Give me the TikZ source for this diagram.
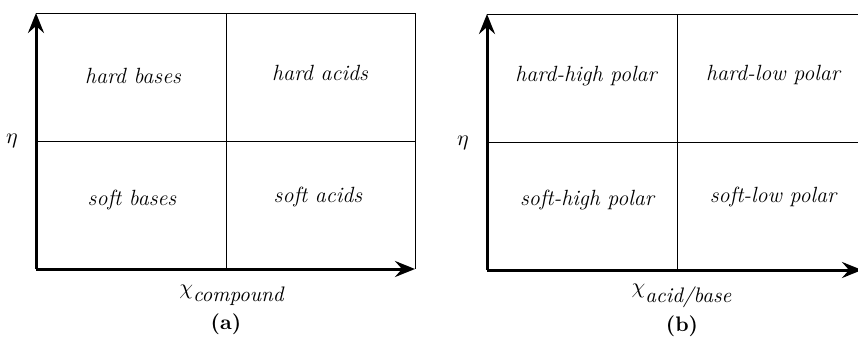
\documentclass[tikz,border=0pt]{standalone}
\usetikzlibrary{arrows.meta}
\tikzset{axis/.style={line width=1.5pt,-{Stealth[length=10pt,width=8pt,inset=3.5pt]}},
  gridline/.style={line width=0.5pt},
  region/.style={font=\fontsize{11}{13}\selectfont\itshape},
  axlabel/.style={font=\fontsize{10.5}{12}\selectfont},
  panel/.style={font=\fontsize{10.5}{12}\selectfont\bfseries}}

\begin{document}
\begin{tikzpicture}[x=0.5pt,y=-0.5pt]
\useasboundingbox (0,0) rectangle (858,338);
% panel (a)
\coordinate (ao) at (36,269); \coordinate (atop) at (36,13); \coordinate (aright) at (415,269);
\coordinate (atr) at (415,13); \coordinate (amt) at (226,13); \coordinate (amb) at (226,269);
\coordinate (aml) at (36,141); \coordinate (amr) at (415,141);
\draw[gridline] (atop) -- (atr) -- (aright);
\draw[gridline] (amt) -- (amb); \draw[gridline] (aml) -- (amr);
\draw[axis] (ao) -- (atop); \draw[axis] (ao) -- (aright);
\node[region] (hb) at (133,76) {hard bases}; \node[region] (ha) at (320,73) {hard acids};
\node[region] (sb) at (132,200) {soft bases}; \node[region] (sa) at (318,197) {soft acids};
\node[axlabel] (aeta) at (12,141) {$\eta$};
\node[axlabel] (achi) at (232,295) {$\chi_{\textit{compound}}$};
\node[panel] (alab) at (226,324) {(a)};
% panel (b)
\coordinate (bo) at (487,270); \coordinate (btop) at (487,14); \coordinate (bright) at (862,270);
\coordinate (btr) at (862,14); \coordinate (bmt) at (677,14); \coordinate (bmb) at (677,270);
\coordinate (bml) at (487,142); \coordinate (bmr) at (862,142);
\draw[gridline] (btop) -- (btr);
\draw[gridline] (bmt) -- (bmb); \draw[gridline] (bml) -- (bmr);
\draw[axis] (bo) -- (btop); \draw[axis] (bo) -- (bright);
\node[region] (hh) at (586,76) {hard-high polar}; \node[region] (hl) at (773,75) {hard-low polar};
\node[region] (sh) at (587,200) {soft-high polar}; \node[region] (sl) at (773,197) {soft-low polar};
\node[axlabel] (beta) at (463,143) {$\eta$};
\node[axlabel] (bchi) at (682,296) {$\chi_{\textit{acid/base}}$};
\node[panel] (blab) at (682,326) {(b)};
\end{tikzpicture}
\end{document}
